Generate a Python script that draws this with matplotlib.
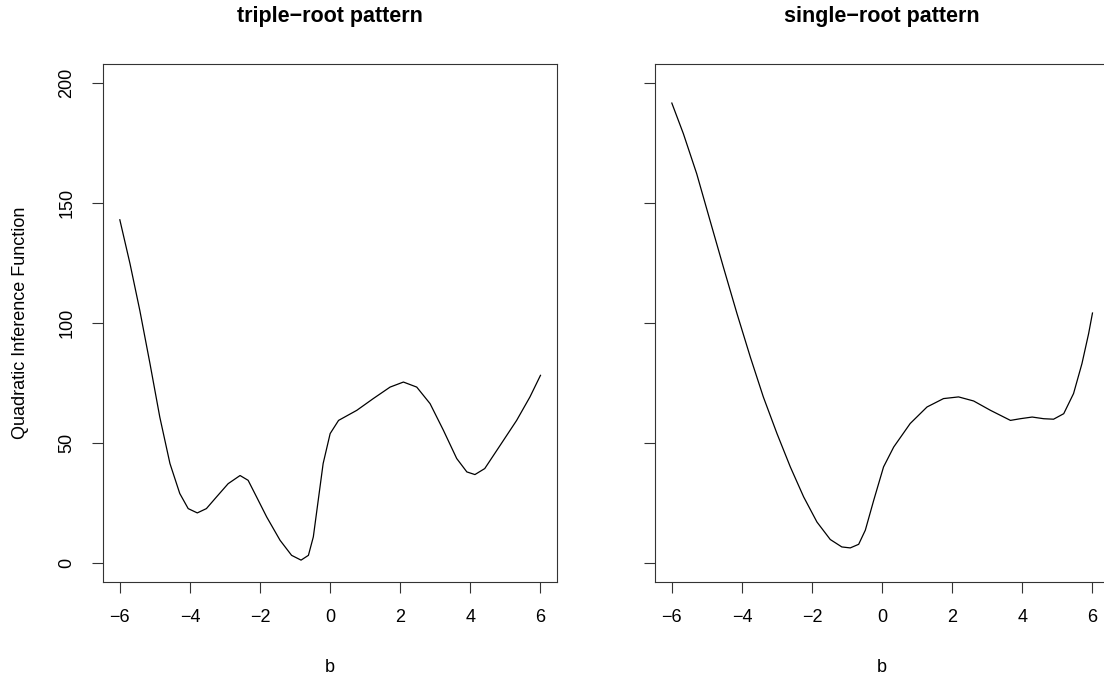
import matplotlib.pyplot as plt
import numpy as np

plt.rcParams['font.family'] = ['Liberation Sans', 'DejaVu Sans']

# data
b_triple = [-6.0, -5.71, -5.43, -5.14, -4.86, -4.57, -4.29, -4.05, -3.79, -3.53,
            -3.24, -2.91, -2.57, -2.34, -2.10, -1.81, -1.43, -1.10, -0.83, -0.62,
            -0.48, -0.34, -0.20, 0.0, 0.24, 0.76, 1.23, 1.71, 2.09, 2.47,
            2.85, 3.23, 3.61, 3.90, 4.13, 4.41, 4.85, 5.32, 5.70, 6.0]
qif_triple = [143.0, 124.7, 105.2, 83.0, 60.7, 41.3, 28.8, 22.5, 20.7, 22.5,
              27.4, 32.9, 36.3, 34.3, 27.4, 19.0, 9.3, 3.0, 1.0, 3.0,
              10.7, 26.0, 41.3, 53.8, 59.3, 63.5, 68.4, 73.2, 75.3, 73.2,
              66.3, 55.2, 43.4, 37.8, 36.7, 39.2, 48.9, 59.3, 69.1, 78.1]

b_single = [-6.0, -5.67, -5.29, -4.91, -4.53, -4.14, -3.76, -3.39, -3.0, -2.62,
            -2.24, -1.86, -1.48, -1.15, -0.91, -0.67, -0.48, -0.24, 0.04, 0.33,
            0.80, 1.28, 1.75, 2.18, 2.61, 3.09, 3.66, 3.94, 4.28, 4.61,
            4.89, 5.18, 5.46, 5.70, 5.89, 6.0]
qif_single = [191.7, 178.9, 162.2, 142.7, 123.3, 103.8, 85.7, 69.1, 53.8, 39.9,
              27.4, 16.9, 9.6, 6.5, 6.1, 7.6, 13.5, 26.0, 39.9, 48.2,
              58.0, 64.9, 68.4, 69.1, 67.4, 63.5, 59.3, 60.0, 60.7, 60.0,
              59.8, 62.1, 70.5, 83.0, 95.5, 104.1]

titles = ['triple\u2212root pattern', 'single\u2212root pattern']
x_ticks = [-6, -4, -2, 0, 2, 4, 6]
y_ticks = [0, 50, 100, 150, 200]

W, H = 1104, 676
fig = plt.figure(figsize=(W / 100, H / 100), dpi=100)

# pixel boxes of the two plot regions (left, top, right, bottom)
boxes = [(103, 64, 557.3, 581.7), (655, 64, 1109.3, 581.7)]
series = [(b_triple, qif_triple), (b_single, qif_single)]

for i, ((l, t, r, btm), (xs, ys)) in enumerate(zip(boxes, series)):
    ax = fig.add_axes([l / W, 1 - btm / H, (r - l) / W, (btm - t) / H])
    ax.plot(xs, ys, color='black', lw=0.9, solid_joinstyle='round')
    ax.set_xlim(-6.48, 6.48)
    ax.set_ylim(-8, 208)
    ax.set_xticks(x_ticks)
    ax.set_yticks(y_ticks)
    ax.tick_params(direction='out', length=8, width=0.8, pad=12,
                   labelsize=13, color='#333333')
    ax.tick_params(axis='y', labelrotation=90)
    for lab in ax.get_yticklabels():
        lab.set_va('center')
    if i == 1:
        ax.tick_params(axis='y', labelleft=False)
    for s in ax.spines.values():
        s.set_linewidth(0.8)
        s.set_color('#333333')
    ax.set_title(titles[i], fontsize=15.5, fontweight='bold', pad=30)
    fig.text((l + r) / 2 / W, 1 - 667 / H, 'b', ha='center', va='center', fontsize=13)

fig.text(21 / W, 1 - 323 / H, 'Quadratic Inference Function', rotation=90,
         ha='center', va='center', fontsize=13)

plt.savefig('out.png', dpi=100)
